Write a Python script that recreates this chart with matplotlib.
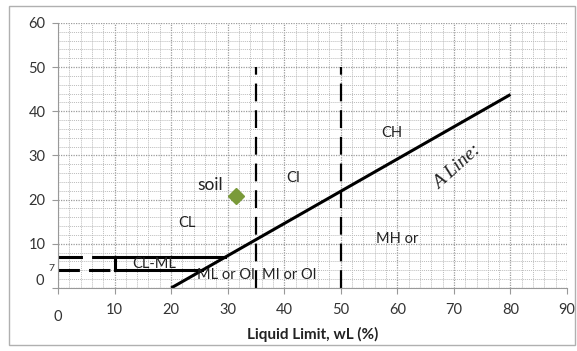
import numpy as np
import matplotlib.pyplot as plt
from matplotlib.patches import Rectangle

# ---- data ----
x_ticks = [10, 20, 30, 40, 50, 60, 70, 80, 90]
y_ticks = [10, 20, 30, 40, 50, 60]

# A line: PI = 0.73 (LL - 20)
a_line_ll = [20, 80]
a_line_pi = [0, 43.8]

# vertical boundaries (LL = 35, 50)
boundary_ll = [35, 50]
boundary_pi = [0, 50]

# CL-ML band
band_top_pi = 7
band_bot_pi = 4
band_left_ll = 10
band_top_right_ll = 29.6
band_bot_right_ll = 25.5
band_dash_ll = [0, 10]

# soil sample point
soil_ll = [31.5]
soil_pi = [20.9]

zone_labels = [("CL-ML", 17, 5.4), ("ML or Ol", 24.6, 3.0), ("MI or Ol", 36.0, 3.0),
               ("CL", 22.8, 14.8), ("CI", 41.6, 25.0), ("CH", 59.1, 35.0),
               ("MH or", 60.0, 11.0)]

plt.rcParams['font.family'] = ['Lato', 'DejaVu Sans']

fig = plt.figure(figsize=(5.77, 3.51), dpi=100)
ax = fig.add_axes([0.1005, 0.1795, 0.8822, 0.755])

ax.set_xlim(0, 90)
ax.set_ylim(0, 60)

# grid
ax.set_xticks(np.arange(0, 91, 2), minor=True)
ax.set_yticks(np.arange(0, 61, 2), minor=True)
ax.set_xticks([0] + x_ticks)
ax.set_yticks([0] + y_ticks)
ax.grid(which='minor', color='#bcbcbc', lw=0.7, ls=(0, (1, 1)))
ax.grid(which='major', color='#9c9c9c', lw=0.9, ls=(0, (1, 1)))
ax.set_axisbelow(True)

ax.set_xticklabels([''] + [str(v) for v in x_ticks])
ax.set_yticklabels([''] + [str(v) for v in y_ticks])
ax.tick_params(axis='x', which='major', length=4, color='#999999', pad=7, labelsize=10.5, labelcolor='#333333')
ax.tick_params(axis='y', which='major', length=4, color='#999999', pad=5, labelsize=10.5, labelcolor='#333333')
ax.tick_params(which='minor', length=0)
for s in ['top', 'right']:
    ax.spines[s].set_visible(False)
ax.spines['left'].set_color('#999999')
ax.spines['bottom'].set_color('#999999')

# A line
ax.plot(a_line_ll, a_line_pi, color='black', lw=2.2, solid_capstyle='butt')

# boundaries
for ll in boundary_ll:
    ax.plot([ll, ll], boundary_pi, color='black', lw=1.6, ls=(0, (8, 4)))

# CL-ML band
ax.plot([band_left_ll, band_top_right_ll], [band_top_pi, band_top_pi], color='black', lw=2.2)
ax.plot([band_left_ll, band_bot_right_ll], [band_bot_pi, band_bot_pi], color='black', lw=2.2)
ax.plot([band_left_ll, band_left_ll], [band_bot_pi, band_top_pi], color='black', lw=2.2)
ax.plot(band_dash_ll, [band_top_pi] * 2, color='black', lw=2.2, ls=(0, (8, 3)))
ax.plot(band_dash_ll, [band_bot_pi] * 2, color='black', lw=2.2, ls=(0, (7, 3)))

# soil point
ax.plot(soil_ll, soil_pi, marker='D', ms=8, color='#7a9a3a', mec='#7a9a3a', ls='none')
ax.text(26.9, 23.4, "soil", fontsize=12.5, ha='center', va='center', color='#222222')

for txt, x, y in zone_labels:
    ax.text(x, y, txt, fontsize=10.5, ha='center' if txt in ("CL-ML", "CL", "CI", "CH", "MH or") else 'left',
            va='center', color='#222222')

ax.text(70.6, 27.3, "A Line:", fontsize=14, family='Liberation Serif', style='italic',
        rotation=42, ha='center', va='center', color='#222222')

# odd axis origin labels
ax.text(-3.2, 1.5, "0", fontsize=10.5, ha='center', va='center', color='#333333', clip_on=False)
ax.text(-1.2, 4.4, "7", fontsize=7.5, ha='center', va='center', color='#333333', clip_on=False)
ax.text(0, -6.6, "0", fontsize=10.5, ha='center', va='center', color='#333333', clip_on=False)

ax.set_xlabel("Liquid Limit, wL (%)", fontsize=11, fontweight='bold', labelpad=7, color='#222222')

# outer frame
fig.patches.append(Rectangle((9 / 577, 6 / 351), 566 / 577, 339 / 351, transform=fig.transFigure,
                             fill=False, edgecolor='#b0b0b0', lw=1))

plt.savefig('out.png', dpi=100)
